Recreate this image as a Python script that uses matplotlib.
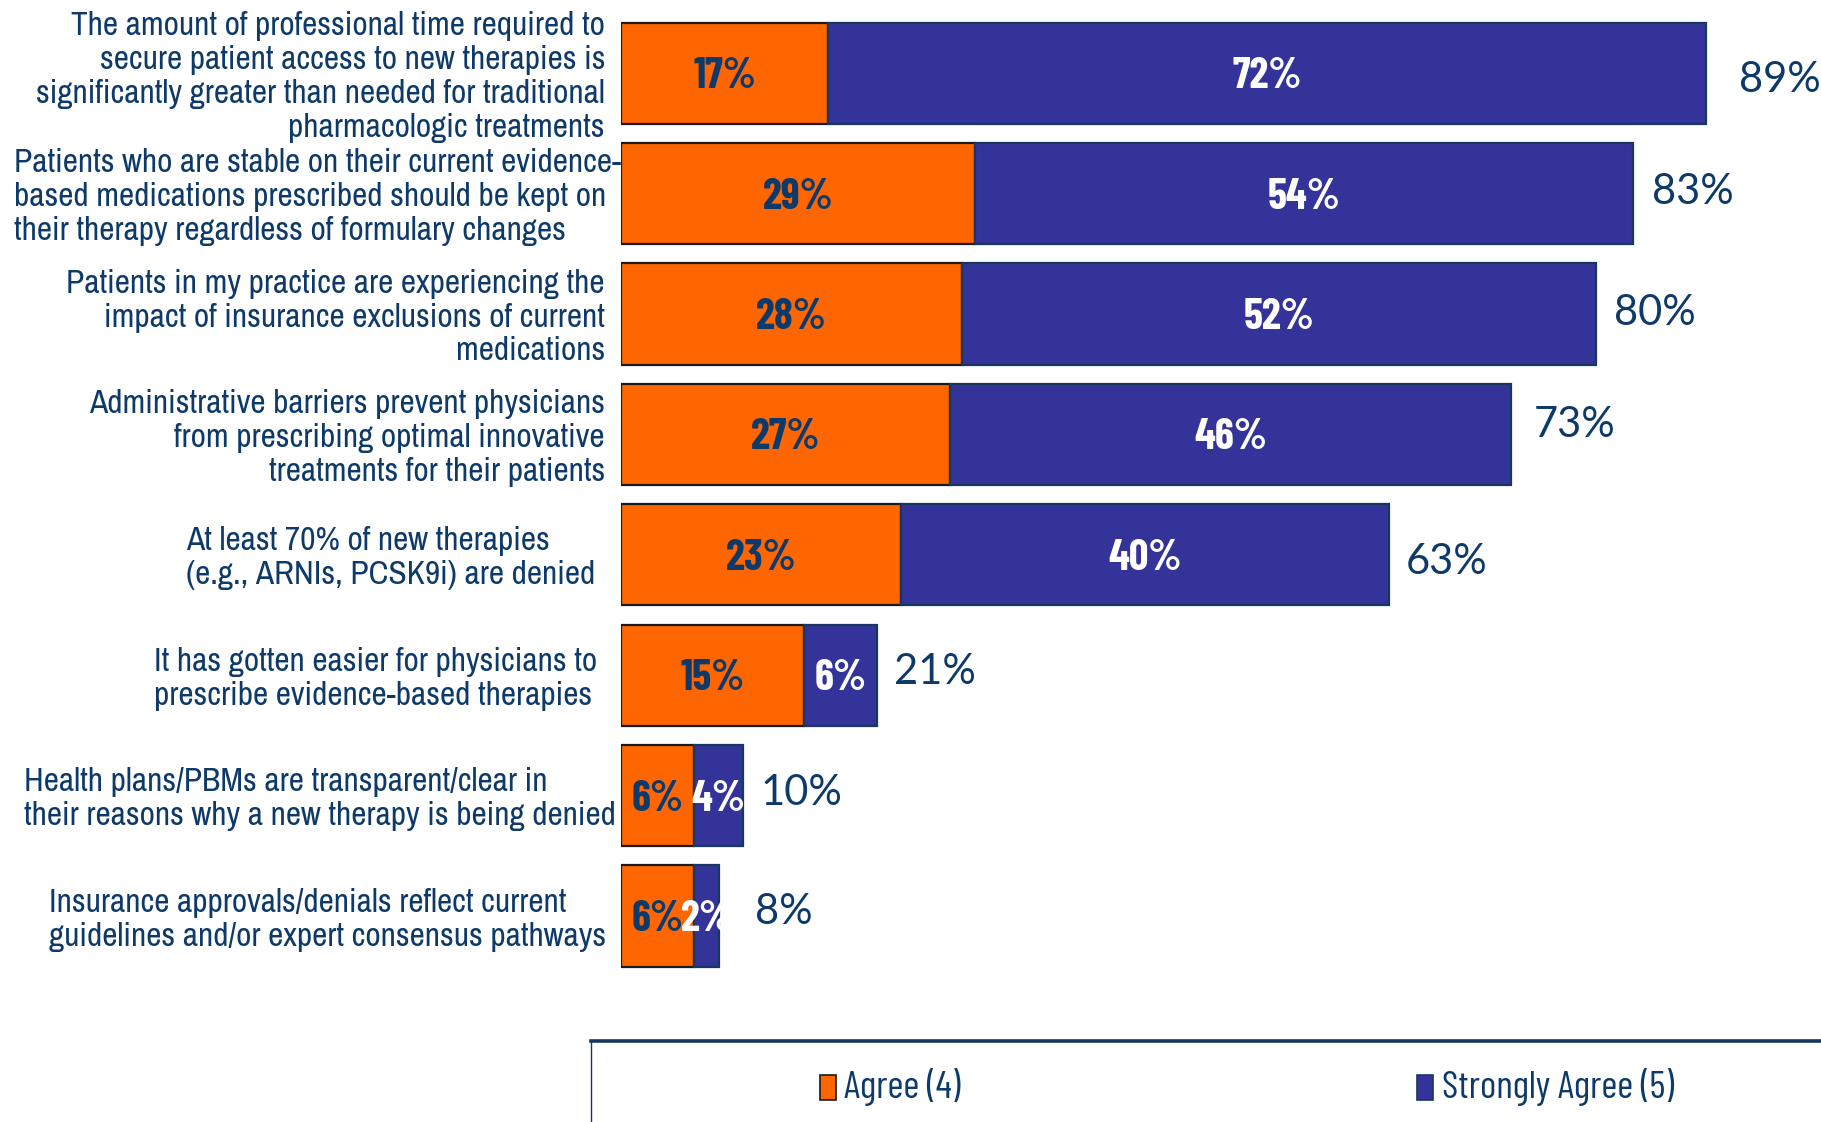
import matplotlib
matplotlib.use("Agg")
import matplotlib.pyplot as plt
from matplotlib.patches import Rectangle
from matplotlib.lines import Line2D

# ---- data -------------------------------------------------------------
statements = [
    "The amount of professional time required to\nsecure patient access to new therapies is\nsignificantly greater than needed for traditional\npharmacologic treatments",
    "Patients who are stable on their current evidence-\nbased medications prescribed should be kept on\ntheir therapy regardless of formulary changes",
    "Patients in my practice are experiencing the\nimpact of insurance exclusions of current\nmedications",
    "Administrative barriers prevent physicians\nfrom prescribing optimal innovative\ntreatments for their patients",
    "At least 70% of new therapies\n(e.g., ARNIs, PCSK9i) are denied",
    "It has gotten easier for physicians to\nprescribe evidence-based therapies",
    "Health plans/PBMs are transparent/clear in\ntheir reasons why a new therapy is being denied",
    "Insurance approvals/denials reflect current\nguidelines and/or expert consensus pathways",
]
agree = [17, 29, 28, 27, 23, 15, 6, 6]
strongly_agree = [72, 54, 52, 46, 40, 6, 4, 2]
totals = [89, 83, 80, 73, 63, 21, 10, 8]
series_names = ["Agree (4)", "Strongly Agree (5)"]

# ---- styling / layout -------------------------------------------------
W, H, DPI = 1821, 1122, 100
ORANGE = "#FF6600"
BLUE = "#343399"
NAVY = "#0E3A6A"
EDGE_BLUE = "#17375E"

LABEL_FONT = ["Archivo Narrow", "Barlow Semi Condensed", "DejaVu Sans"]
VALUE_FONT = ["Barlow Condensed", "DejaVu Sans"]
TOTAL_FONT = ["Lato", "DejaVu Sans"]

px_per_pct = 12.19
bar_left_px = 621
pitch_px = 120.4
first_center_px = 73.2

# label block anchors (px from figure left) and alignment of lines inside
label_right_px = [605, 621, 605, 605, 595, 597, 616, 606]
label_multi = ["right", "left", "right", "right", "left", "left", "left", "left"]
# placement of the total labels relative to the bar end / bar centre (px)
total_gap_px = [33, 19, 18, 23, 17, 17, 18, 36]
total_dy_px = [4, -5, -4, -12, 4, -6, -6, -7]

fig = plt.figure(figsize=(W / DPI, H / DPI), dpi=DPI)
ax_w_px = 1200
ax_top_px = first_center_px - pitch_px / 2
ax_h_px = pitch_px * len(statements)
ax = fig.add_axes([bar_left_px / W, 1 - (ax_top_px + ax_h_px) / H,
                   ax_w_px / W, ax_h_px / H])
ax.set_xlim(0, ax_w_px / px_per_pct)
ax.set_ylim(len(statements) - 0.5, -0.5)
ax.axis("off")


def rows(px):
    """Convert a vertical pixel distance into row units."""
    return px / pitch_px


ys = list(range(len(statements)))
bh = 0.84
b1 = ax.barh(ys, agree, height=bh, color=ORANGE, edgecolor="#1a1a1a",
             linewidth=1.6, label=series_names[0])
b2 = ax.barh(ys, strongly_agree, left=agree, height=bh, color=BLUE,
             edgecolor=EDGE_BLUE, linewidth=1.6, label=series_names[1])

value_fs, total_fs = 31, 30
value_half_cap = 0.70 * value_fs * DPI / 72 / 2
total_half_cap = 0.72 * total_fs * DPI / 72 / 2

for i in ys:
    end = agree[i] + strongly_agree[i]
    # clip region: the whole stacked bar of this row
    clip = Rectangle((0, i - bh / 2), end, bh, transform=ax.transData,
                     fill=False, visible=False)
    ax.add_patch(clip)
    y_val = i + rows(value_half_cap)
    t = ax.text(agree[i] / 2, y_val, f"{agree[i]}%", ha="center",
                va="baseline", fontsize=value_fs, fontweight="bold",
                family=VALUE_FONT, color=NAVY)
    t.set_clip_path(clip)
    t = ax.text(agree[i] + strongly_agree[i] / 2, y_val, f"{strongly_agree[i]}%",
                ha="center", va="baseline", fontsize=value_fs,
                fontweight="bold", family=VALUE_FONT, color="white")
    t.set_clip_path(clip)
    # total
    ax.text(end + total_gap_px[i] / px_per_pct,
            i + rows(total_half_cap + total_dy_px[i]), f"{totals[i]}%",
            ha="left", va="baseline", fontsize=total_fs, family=TOTAL_FONT,
            color=NAVY)
    # statement
    x_lab = (label_right_px[i] - bar_left_px) / px_per_pct
    ax.text(x_lab, i + 0.03, statements[i], ha="right", va="center",
            multialignment=label_multi[i], fontsize=24, family=LABEL_FONT,
            color=NAVY, linespacing=1.16, clip_on=False)

# ---- legend frame and entries ----------------------------------------
top_y = 1 - 1041 / H
fig.add_artist(Line2D([591 / W, 1.0], [top_y, top_y], transform=fig.transFigure,
                      color=EDGE_BLUE, lw=2.6))
fig.add_artist(Line2D([591 / W, 591 / W], [top_y, 0], transform=fig.transFigure,
                      color=EDGE_BLUE, lw=1.0))

leg_cy = 1 - 1087 / H
patch_w, patch_h = 16 / W, 25 / H
for name, col, ec, px, tx in [(series_names[0], ORANGE, "#1a1a1a", 820, 844),
                              (series_names[1], BLUE, EDGE_BLUE, 1417, 1442)]:
    fig.add_artist(Rectangle((px / W, leg_cy - patch_h / 2), patch_w, patch_h,
                             transform=fig.transFigure, facecolor=col,
                             edgecolor=ec, lw=1.2))
    fig.text(tx / W, leg_cy, name, ha="left", va="center", fontsize=28,
             family=VALUE_FONT, color=NAVY)

fig.savefig("out.png", dpi=DPI, facecolor="white")
